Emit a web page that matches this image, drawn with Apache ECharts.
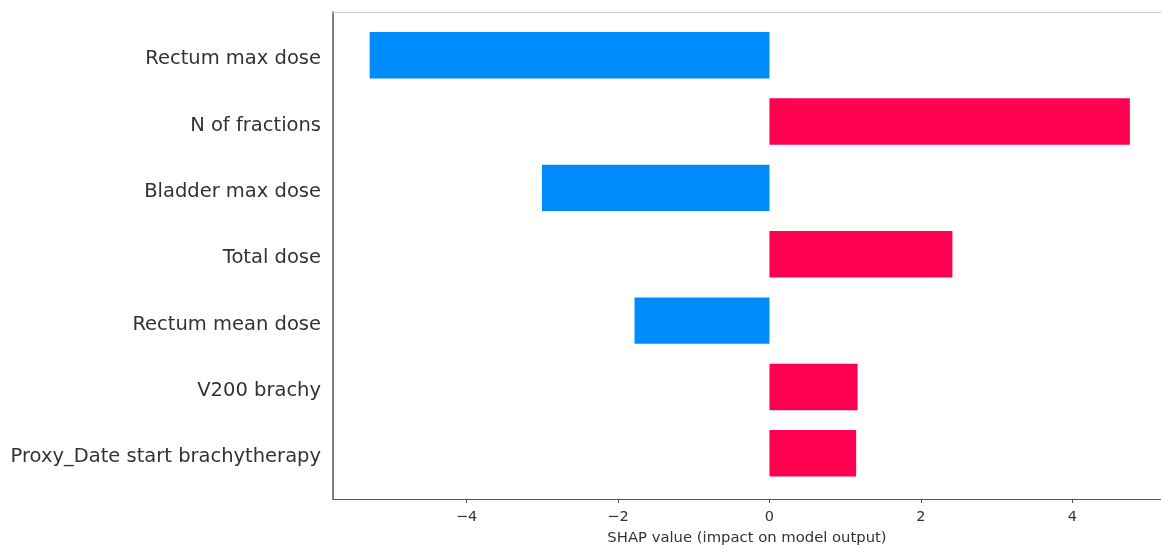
<!DOCTYPE html>
<html>
<head>
<meta charset="utf-8">
<script src="https://cdn.jsdelivr.net/npm/echarts@6/dist/echarts.min.js"></script>
<style>
html,body{margin:0;padding:0;background:#fff;}
#chart{width:1161px;height:545px;}
</style>
</head>
<body>
<div id="chart"></div>
<script>
const categories = [
  "Rectum max dose",
  "N of fractions",
  "Bladder max dose",
  "Total dose",
  "Rectum mean dose",
  "V200 brachy",
  "Proxy_Date start brachytherapy"
];
const shapValues = [-5.28, 4.76, -3.005, 2.416, -1.782, 1.164, 1.145];
const xTicks = [-4, -2, 0, 2, 4];
const xMin = -5.764;
const xMax = 5.171;
const posColor = '#ff0051';
const negColor = '#008bfb';

const chart = echarts.init(document.getElementById('chart'));
const font = 'DejaVu Sans';

chart.setOption({
  animation: false,
  grid: [
    {left: 333, right: 0, top: 22, height: 464.5, outerBoundsMode: 'none', containLabel: false},
    {left: 333, right: 0, top: 12, bottom: 46, outerBoundsMode: 'none', containLabel: false}
  ],
  xAxis: [
    {gridIndex: 0, type: 'value', min: xMin, max: xMax, show: false},
    {
      gridIndex: 1, type: 'value', min: xMin, max: xMax, position: 'bottom',
      axisLine: {show: true, onZero: false, lineStyle: {color: '#555', width: 1.2}},
      axisTick: {show: true, length: 4, lineStyle: {color: '#555'},
        customValues: xTicks},
      axisLabel: {show: true, color: '#333', fontSize: 14.5, fontFamily: font, margin: 11,
        customValues: xTicks,
        formatter: v => (v < 0 ? '\u2212' + Math.abs(v) : String(v))},
      splitLine: {show: false},
      name: 'SHAP value (impact on model output)',
      nameLocation: 'middle', nameGap: 32,
      nameTextStyle: {color: '#333', fontSize: 14.8, fontFamily: font}
    },
    {
      gridIndex: 1, type: 'value', min: xMin, max: xMax, position: 'top',
      axisLine: {show: true, onZero: false, lineStyle: {color: '#c8c8c8', width: 1}},
      axisTick: {show: false}, axisLabel: {show: false}, splitLine: {show: false}
    }
  ],
  yAxis: [
    {
      gridIndex: 0, type: 'category', data: categories, inverse: true,
      axisLine: {show: false}, axisTick: {show: false}, splitLine: {show: false},
      axisLabel: {
        margin: 12,
        formatter: v => '{a|' + v + '}',
        rich: {a: {color: '#333', fontSize: 19.5, fontFamily: font, padding: [8, 0, 0, 0]}}
      }
    },
    {
      gridIndex: 1, type: 'value', min: 0, max: 1, position: 'left',
      axisLine: {show: true, onZero: false, lineStyle: {color: '#555', width: 1.5}},
      axisTick: {show: false}, axisLabel: {show: false}, splitLine: {show: false}
    }
  ],
  series: [{
    type: 'bar',
    xAxisIndex: 0, yAxisIndex: 0,
    barWidth: '70%',
    data: shapValues.map(v => ({value: v, itemStyle: {color: v >= 0 ? posColor : negColor}}))
  }]
});
</script>
</body>
</html>
